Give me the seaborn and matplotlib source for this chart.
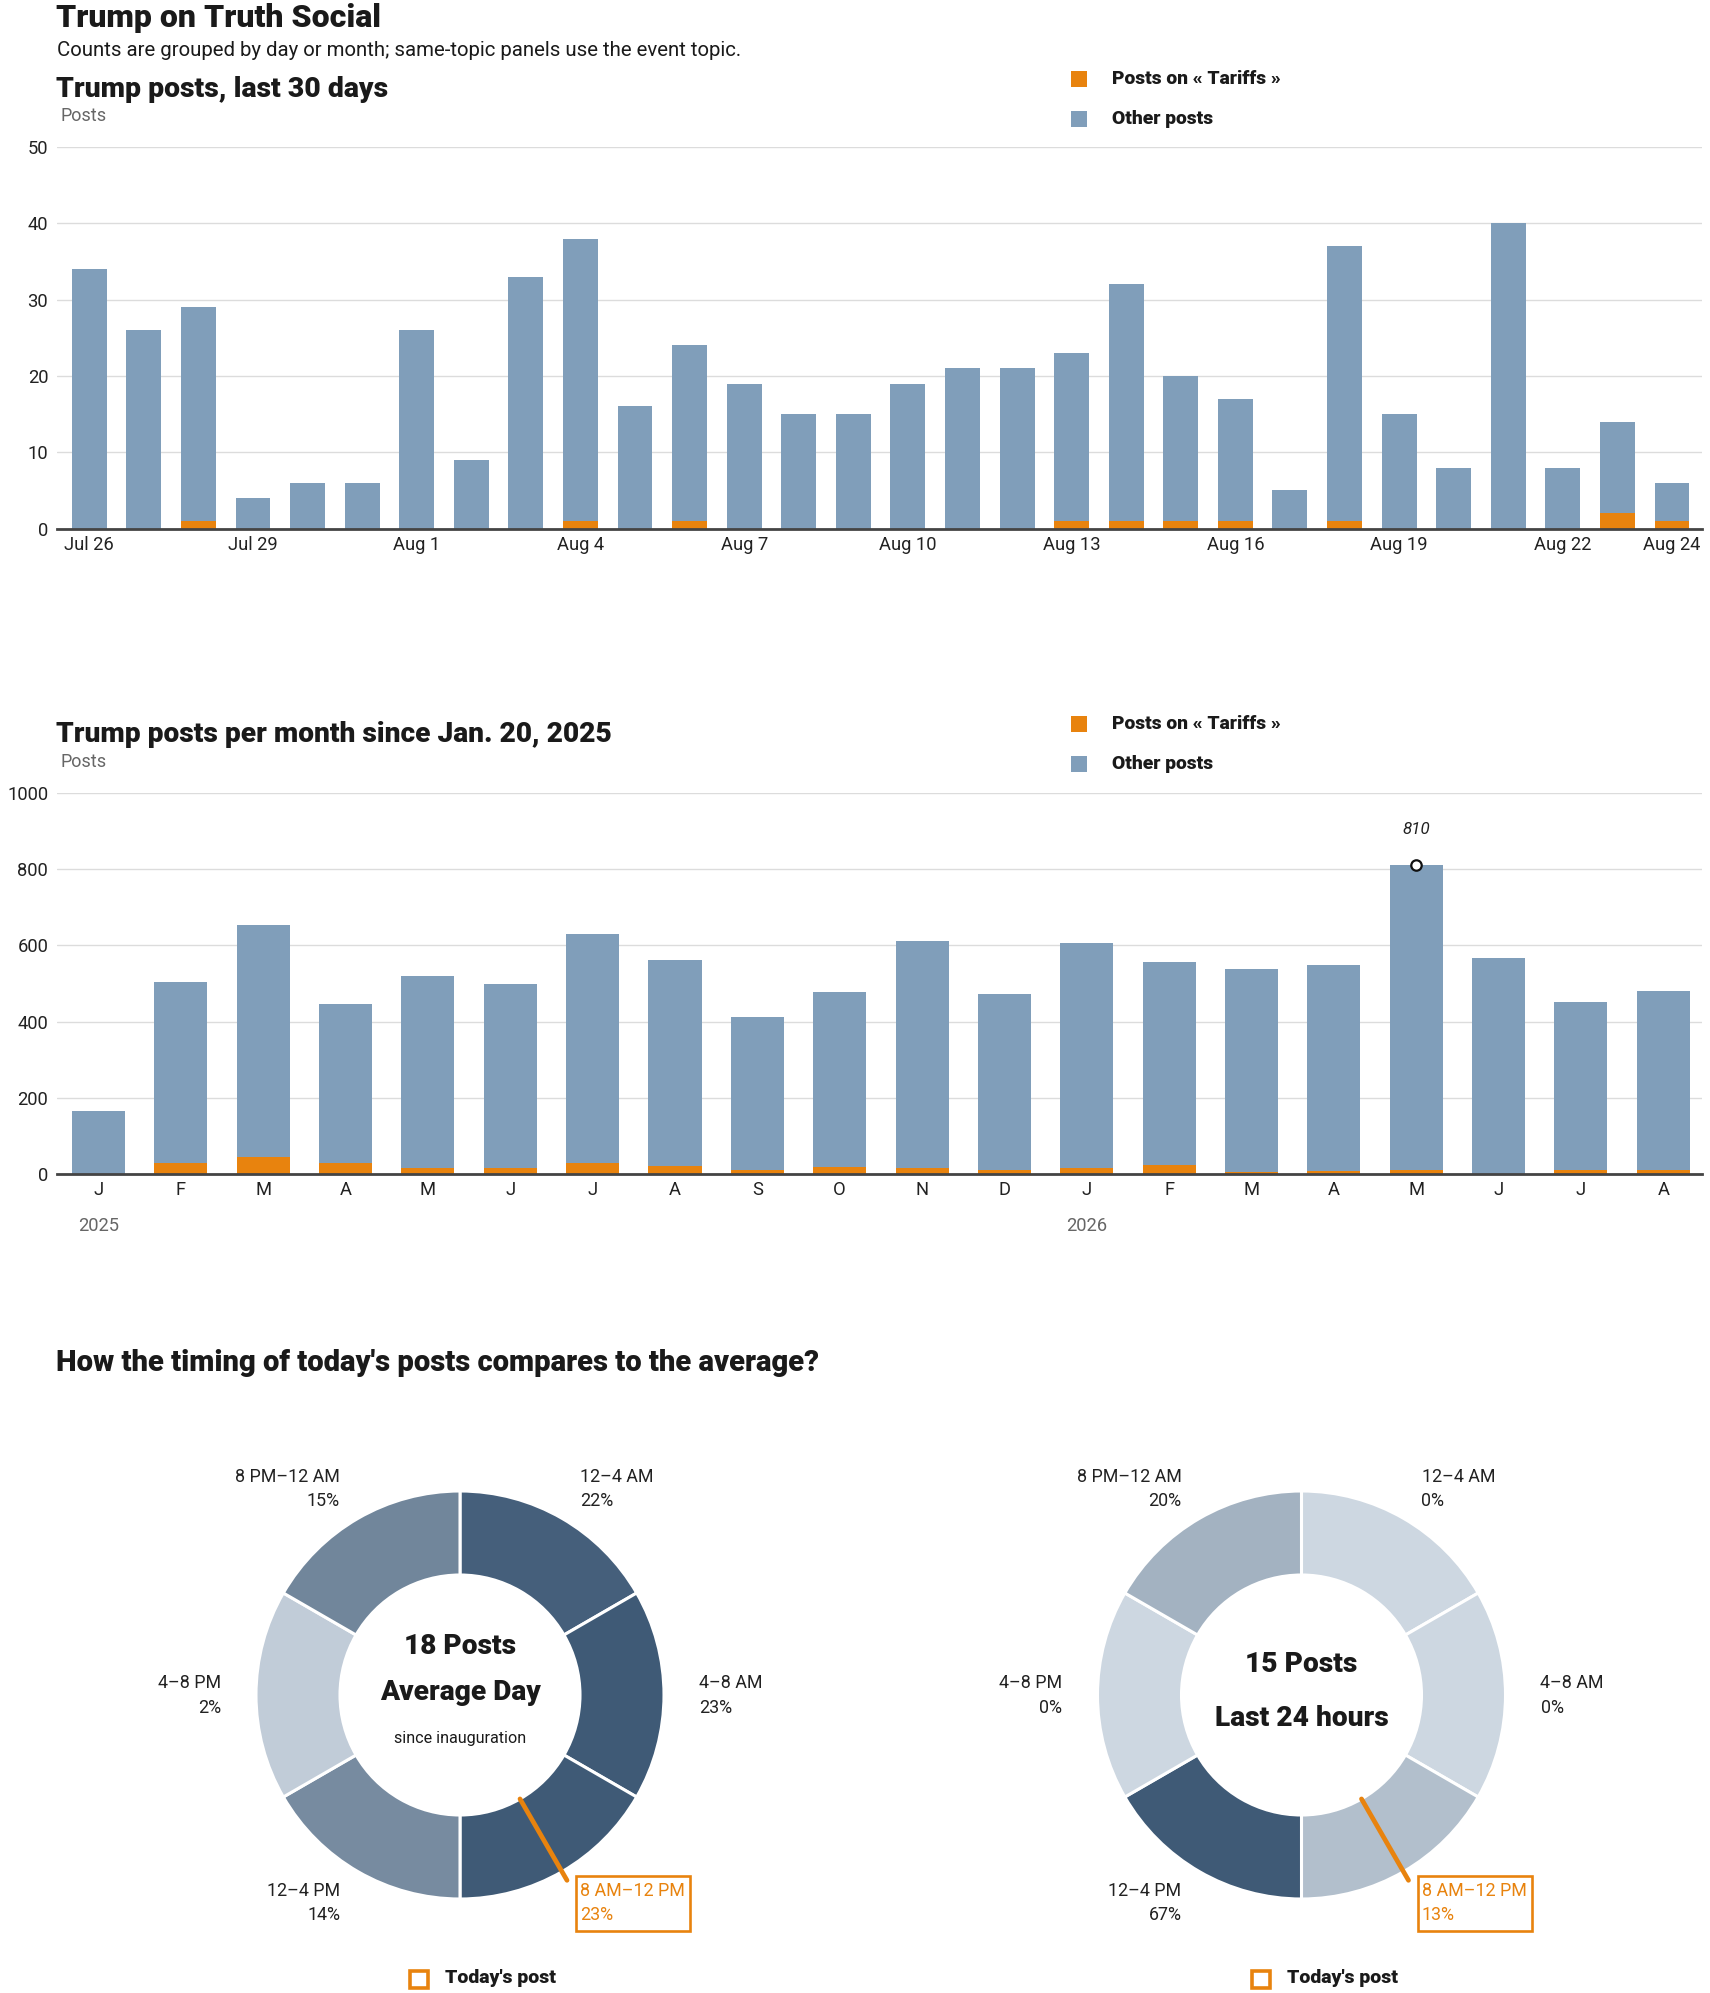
import numpy as np
import pandas as pd
import seaborn as sns
import matplotlib
matplotlib.use("Agg")
import matplotlib.pyplot as plt
from matplotlib.patches import Rectangle

# ---------------- data ----------------
day_labels = ["Jul 26", "Jul 27", "Jul 28", "Jul 29", "Jul 30", "Jul 31",
              "Aug 1", "Aug 2", "Aug 3", "Aug 4", "Aug 5", "Aug 6", "Aug 7",
              "Aug 8", "Aug 9", "Aug 10", "Aug 11", "Aug 12", "Aug 13",
              "Aug 14", "Aug 15", "Aug 16", "Aug 17", "Aug 18", "Aug 19",
              "Aug 20", "Aug 21", "Aug 22", "Aug 23", "Aug 24"]
day_total = [34, 26, 29, 4, 6, 6, 26, 9, 33, 38, 16, 24, 19, 15, 15, 19, 21,
             21, 23, 32, 20, 17, 5, 37, 15, 8, 40, 8, 14, 6]
day_tariff = [0, 0, 1, 0, 0, 0, 0, 0, 0, 1, 0, 1, 0, 0, 0, 0, 0, 0, 1, 1, 1,
              1, 0, 1, 0, 0, 0, 0, 2, 1]
day_tick_labels = ["Jul 26", "Jul 29", "Aug 1", "Aug 4", "Aug 7", "Aug 10",
                   "Aug 13", "Aug 16", "Aug 19", "Aug 22", "Aug 24"]

month_keys = ["2025-01", "2025-02", "2025-03", "2025-04", "2025-05", "2025-06",
              "2025-07", "2025-08", "2025-09", "2025-10", "2025-11", "2025-12",
              "2026-01", "2026-02", "2026-03", "2026-04", "2026-05", "2026-06",
              "2026-07", "2026-08"]
month_letters = ["J", "F", "M", "A", "M", "J", "J", "A", "S", "O", "N", "D",
                 "J", "F", "M", "A", "M", "J", "J", "A"]
month_total = [165, 504, 654, 447, 520, 499, 631, 562, 412, 478, 612, 473,
               607, 557, 539, 549, 810, 568, 451, 481]
month_tariff = [0, 30, 45, 30, 17, 17, 30, 21, 10, 19, 17, 10, 17, 24, 5, 7,
                10, 1, 10, 10]
year_labels = {"2025-01": "2025", "2026-01": "2026"}

periods = ["12–4 AM", "4–8 AM", "8 AM–12 PM", "12–4 PM", "4–8 PM", "8 PM–12 AM"]
period_hours = [4, 4, 4, 4, 4, 4]
avg_share = [22, 23, 23, 14, 2, 15]
today_share = [0, 0, 13, 67, 0, 20]
avg_posts = 18
today_posts = 15
today_post_hour = 10

topic = "Tariffs"

# ---------------- style ----------------
BLUE = "#809eba"
ORANGE = "#e8830e"
DARK = "#1a1a1a"
TICK = "#222222"
GRAY = "#666666"

sns.set_theme(style="white")
plt.rcParams["font.family"] = ["Roboto", "DejaVu Sans"]

W, H = 1710, 1993
fig = plt.figure(figsize=(W / 100, H / 100), dpi=100)
fig.patch.set_facecolor("white")
renderer = fig.canvas.get_renderer()


def ax_px(x0, y0, x1, y1):
    return fig.add_axes([x0 / W, 1 - y1 / H, (x1 - x0) / W, (y1 - y0) / H])


def size_for(s, width, base=20, **kw):
    t = fig.text(0, 0, s, fontsize=base, **kw)
    w = t.get_window_extent(renderer).width
    t.remove()
    return base * width / w


def ftext(x, y, s, width=None, size=14, **kw):
    if width is not None:
        size = size_for(s, width, **{k: v for k, v in kw.items()
                                     if k in ("fontweight", "style", "family")})
    return fig.text(x / W, 1 - y / H, s, fontsize=size, **kw)


def frect(x0, y0, x1, y1, **kw):
    fig.add_artist(Rectangle((x0 / W, 1 - y1 / H), (x1 - x0) / W, (y1 - y0) / H,
                             transform=fig.transFigure, **kw))


HEAVY = dict(fontweight="black", color=DARK)

# ---------------- headings ----------------
ftext(56, 27, "Trump on Truth Social", width=324, va="baseline", **HEAVY)
ftext(57, 51, "Counts are grouped by day or month; same-topic panels use the event topic.",
      width=684, va="center", color=DARK)

legend_size = size_for(f"Posts on « {topic} »", 169, fontweight="black")
posts_size = size_for("Posts", 46)


def legend_block(y_orange, y_blue):
    frect(1071, y_orange - 8, 1087, y_orange + 8, color=ORANGE, lw=0)
    frect(1071, y_blue - 8, 1087, y_blue + 8, color=BLUE, lw=0)
    ftext(1112, y_orange, f"Posts on « {topic} »", size=legend_size,
          va="center", **HEAVY)
    ftext(1112, y_blue, "Other posts", size=legend_size, va="center", **HEAVY)


tick_size = size_for("Jul 26", 50)


def style_bar_axes(ax, ylim, yticks):
    ax.set_ylim(*ylim)
    ax.set_yticks(yticks)
    ax.set_yticklabels([str(v) for v in yticks])
    ax.set_xlabel("")
    ax.set_ylabel("")
    ax.set_axisbelow(True)
    ax.yaxis.grid(True, color="#dcdcdc", lw=1.0)
    ax.xaxis.grid(False)
    for s in ("left", "right", "top"):
        ax.spines[s].set_visible(False)
    ax.spines["bottom"].set_color("#444444")
    ax.spines["bottom"].set_linewidth(2.0)
    ax.tick_params(axis="both", length=0, labelsize=tick_size, colors=TICK)
    ax.tick_params(axis="y", pad=6)
    ax.tick_params(axis="x", pad=5)
    ax.set_facecolor("white")


# ---------------- panel 1: last 30 days ----------------
ftext(56, 97, "Trump posts, last 30 days", width=331, va="baseline", **HEAVY)
ftext(60, 116, "Posts", size=posts_size, va="center", color=GRAY)
legend_block(79, 119)

daily = pd.DataFrame({"day": day_labels, "total": day_total, "tariff": day_tariff})
ax1 = ax_px(56.5, 147, 1702, 528.6)
sns.barplot(data=daily, x="day", y="total", order=day_labels, color=BLUE,
            saturation=1, width=0.64, linewidth=0, errorbar=None, ax=ax1)
sns.barplot(data=daily, x="day", y="tariff", order=day_labels, color=ORANGE,
            saturation=1, width=0.64, linewidth=0, errorbar=None, ax=ax1)
style_bar_axes(ax1, (0, 50), list(range(0, 51, 10)))
ax1.set_xlim(-0.6, len(day_labels) - 0.45)
tick_pos = [day_labels.index(l) for l in day_tick_labels]
ax1.set_xticks(tick_pos)
ax1.set_xticklabels(day_tick_labels)

# ---------------- panel 2: per month ----------------
ftext(56, 742.5, "Trump posts per month since Jan. 20, 2025", width=554,
      va="baseline", **HEAVY)
ftext(60, 762, "Posts", size=posts_size, va="center", color=GRAY)
legend_block(724, 764)

monthly = pd.DataFrame({"month": month_keys, "total": month_total,
                        "tariff": month_tariff})
ax2 = ax_px(56.5, 793, 1702, 1174)
sns.barplot(data=monthly, x="month", y="total", order=month_keys, color=BLUE,
            saturation=1, width=0.645, linewidth=0, errorbar=None, ax=ax2)
sns.barplot(data=monthly, x="month", y="tariff", order=month_keys, color=ORANGE,
            saturation=1, width=0.645, linewidth=0, errorbar=None, ax=ax2)
style_bar_axes(ax2, (0, 1000), list(range(0, 1001, 200)))
ax2.set_xlim(-0.51, len(month_keys) - 0.53)
ax2.set_xticks(range(len(month_keys)))
ax2.set_xticklabels(month_letters)
for key, lab in year_labels.items():
    i = month_keys.index(key)
    ax2.annotate(lab, (i, 0), xycoords=("data", "data"), xytext=(0, -52 * 0.72),
                 textcoords="offset points", ha="center", va="center",
                 fontsize=tick_size, color=GRAY, annotation_clip=False)

imax = int(np.argmax(month_total))
vmax = month_total[imax]
ax2.plot([imax], [vmax], marker="o", ms=7.5, mfc="white", mec="#111111",
         mew=1.6, zorder=5, clip_on=False)
ax2.annotate(str(vmax), (imax, vmax), xytext=(0, 26), textcoords="offset points",
             ha="center", va="center", style="italic", fontsize=tick_size * 0.92,
             color="#222222", annotation_clip=False)

# ---------------- donuts ----------------
ftext(56, 1371, "How the timing of today's posts compares to the average?",
      width=765, va="baseline", **HEAVY)

cmap = sns.blend_palette(["#cdd7e1", "#3f5a76"], as_cmap=True)
label_size = size_for("8 PM–12 AM", 105)
label_pos = [(120, 218, "left"), (239, 11.5, "left"), (120, -196, "left"),
             (-120, -196, "right"), (-239, 11.5, "right"), (-120, 218, "right")]
center_big = size_for("Average Day", 161, fontweight="black")
center_small = size_for("since inauguration", 132)
legend2_size = size_for("Today's post", 111, fontweight="black")


def donut(cx, cy, shares, lines):
    R = 330
    ax = ax_px(cx - R, cy - R, cx + R, cy + R)
    top = max(shares)
    cols = [cmap(s / top) for s in shares]
    ax.pie(period_hours, colors=cols, startangle=90, counterclock=False,
           radius=204, wedgeprops=dict(width=84, edgecolor="white", linewidth=2.2))
    ax.set_xlim(-R, R)
    ax.set_ylim(-R, R)
    ax.set_aspect("equal")
    ax.axis("off")
    hi = today_post_hour // 4
    for i, (p, s) in enumerate(zip(periods, shares)):
        x, y, ha = label_pos[i]
        c = ORANGE if i == hi else TICK
        ax.text(x, y, p, ha=ha, va="center", fontsize=label_size, color=c)
        ax.text(x, y - 24.3, f"{s}%", ha=ha, va="center", fontsize=label_size,
                color=c)
    ax.add_patch(Rectangle((116, -236), 114, 55.5, fill=False, edgecolor=ORANGE,
                           lw=1.9, zorder=4))
    ang = np.deg2rad(90 - today_post_hour / 24 * 360)
    ax.plot([120 * np.cos(ang), 214 * np.cos(ang)],
            [120 * np.sin(ang), 214 * np.sin(ang)], color=ORANGE, lw=3.4,
            solid_capstyle="round", zorder=5)
    for text, y, size, weight in lines:
        ax.text(0, y, text, ha="center", va="center", fontsize=size,
                fontweight=weight, color=DARK)
    # legend below
    frect(cx - 50, 1971, cx - 32, 1988, fill=False, edgecolor=ORANGE, lw=2.6)
    ftext(cx - 15, 1978, "Today's post", size=legend2_size, va="center", **HEAVY)


donut(460, 1695, avg_share,
      [(f"{avg_posts} Posts", 48, center_big, "black"),
       ("Average Day", 3, center_big, "black"),
       ("since inauguration", -44, center_small, "normal")])
donut(1301.5, 1695, today_share,
      [(f"{today_posts} Posts", 30, center_big, "black"),
       ("Last 24 hours", -24, center_big, "black")])

fig.savefig("out.png", dpi=100, facecolor="white")
